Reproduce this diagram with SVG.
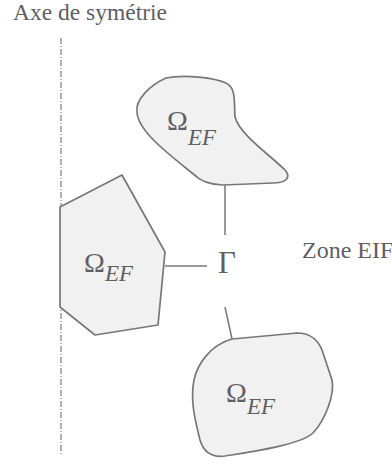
<svg xmlns="http://www.w3.org/2000/svg" width="392" height="467" viewBox="0 0 392 467">
<style>
.shape{fill:#f1f1f1;stroke:#777;stroke-width:1.7;stroke-linejoin:round}
.conn{stroke:#777;stroke-width:1.5;fill:none}
.lbl{font-family:"Liberation Serif","Times New Roman",serif;fill:#5f5f5f}
.om{font-size:28px}
.sub{font-size:23px;font-style:italic}
</style>
<rect width="392" height="467" fill="#fff"/>
<g id="axis">
<line x1="61" y1="38" x2="61" y2="455" stroke="#888" stroke-width="1.3" stroke-dasharray="6 2 1 2"/>
<text class="lbl" x="13" y="20" font-size="23.5">Axe de symétrie</text>
</g>
<g id="connectors">
<line class="conn" x1="225" y1="185" x2="225" y2="235"/>
<line class="conn" x1="165" y1="266" x2="207" y2="266"/>
<line class="conn" x1="225" y1="307" x2="232" y2="339"/>
</g>
<g id="omega-top">
<path class="shape" d="M 137,112 C 135,100 150,85 166,78 C 185,74 215,78 226,83 C 236,88 234,100 235,117 C 240,135 270,155 285,170 C 292,178 285,183 273,183 L 223,185 C 210,185 200,180 197,177 C 170,155 138,132 137,112 Z"/>
<text class="lbl om" x="167" y="130">Ω</text>
<text class="lbl sub" x="188" y="145">EF</text>
</g>
<g id="omega-left">
<path class="shape" d="M 60,207 L 122,175 L 165,252 L 158,325 L 95,335 L 60,307 Z"/>
<text class="lbl om" x="84" y="272">Ω</text>
<text class="lbl sub" x="105" y="281">EF</text>
</g>
<g id="omega-bottom">
<path class="shape" d="M 232,339 L 297,333 C 310,333 318,340 322,350 L 332,380 C 335,395 325,420 313,433 C 300,445 250,452 225,456 C 210,458 203,450 200,440 C 195,420 190,400 194,380 C 197,365 210,345 232,339 Z"/>
<text class="lbl om" x="226" y="402">Ω</text>
<text class="lbl sub" x="247" y="414">EF</text>
</g>
<g id="gamma">
<text class="lbl" x="218" y="273" font-size="31">Γ</text>
</g>
<g id="zone">
<text class="lbl" x="302" y="258" font-size="24">Zone EIF</text>
</g>
</svg>
